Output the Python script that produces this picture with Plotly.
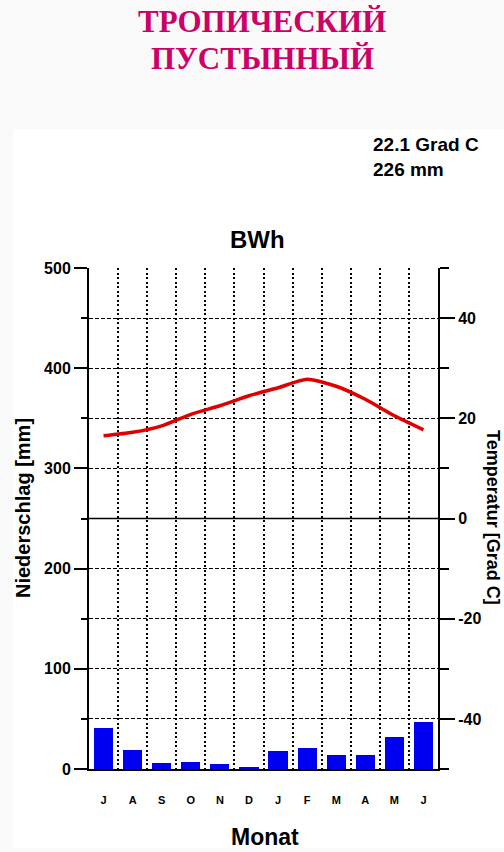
import plotly.graph_objects as go

# ---- data ----
months = ["J", "A", "S", "O", "N", "D", "J", "F", "M", "A", "M", "J"]
precip_mm = [41, 19, 6, 7, 5, 2, 18, 21, 14, 14, 32, 47]
temp_c = [16.5, 17.2, 18.5, 20.8, 22.5, 24.5, 26.1, 27.8, 26.4, 23.8, 20.5, 17.7]
temp_ticks = [-40, -20, 0, 20, 40]
temp_tick_labels = ["-40", "-20", "0", "20", "40"]
title_lines = ["ТРОПИЧЕСКИЙ", "ПУСТЫННЫЙ"]
climate_code = "BWh"
mean_temp_text = "22.1 Grad C"
total_precip_text = "226 mm"

W, H = 504, 852
L, R, T, B = 89, 66, 268, 83
PW, PH = W - L - R, H - T - B


def px(x):
    return (x - L) / PW


def py(y):
    return (H - B - y) / PH


FONT = "Liberation Sans"
idx = list(range(len(months)))

fig = go.Figure()
fig.add_trace(go.Bar(x=idx, y=precip_mm, width=0.66,
                     marker=dict(color="#0000f0", line=dict(width=0)),
                     showlegend=False))
fig.add_trace(go.Scatter(x=idx, y=temp_c, yaxis="y2", mode="lines",
                         line=dict(color="#e00000", width=3.5, shape="spline", smoothing=0.6),
                         showlegend=False))

grid_dash = "4px,2px"
fig.update_layout(
    width=W, height=H,
    margin=dict(l=L, r=R, t=T, b=B, autoexpand=False),
    paper_bgcolor="#f9f9f9",
    plot_bgcolor="white",
    font=dict(family=FONT, color="black"),
    bargap=0,
    xaxis=dict(
        range=[-0.5, 11.5], tickvals=idx, ticktext=months,
        showline=True, linewidth=2, linecolor="black",
        ticks="", showgrid=False, zeroline=False,
        tickfont=dict(size=11, weight="bold"),
        ticklabelstandoff=20,
        minor=dict(tick0=0.5, dtick=1, showgrid=True, gridcolor="black",
                   griddash="2px,2.5px", gridwidth=1.6, ticks=""),
    ),
    yaxis=dict(
        range=[0, 500], dtick=100, tick0=0,
        showline=True, linewidth=2, linecolor="black",
        ticks="outside", ticklen=13, tickwidth=2, tickcolor="black",
        showgrid=True, gridcolor="black", gridwidth=1, griddash=grid_dash,
        zeroline=False,
        tickfont=dict(size=16, weight="bold"),
        minor=dict(dtick=50, tick0=0, ticks="outside", ticklen=6, tickwidth=2,
                   tickcolor="black", showgrid=True, gridcolor="black",
                   gridwidth=1, griddash=grid_dash),
    ),
    yaxis2=dict(
        overlaying="y", side="right", range=[-50, 50],
        tickvals=temp_ticks, ticktext=temp_tick_labels,
        showline=True, linewidth=2, linecolor="black",
        ticks="outside", ticklen=15, tickwidth=2, tickcolor="black",
        showgrid=False, zeroline=False,
        tickfont=dict(size=16, weight="bold"),
        minor=dict(dtick=10, tick0=0, ticks="outside", ticklen=9, tickwidth=2,
                   tickcolor="black", showgrid=False),
    ),
)

# white picture area and the solid 0 °C line
fig.add_shape(type="rect", xref="paper", yref="paper",
              x0=px(13), x1=px(W + 5), y0=py(848), y1=py(129),
              fillcolor="white", line=dict(width=0), layer="below")
fig.add_shape(type="line", xref="x domain", yref="y2",
              x0=0, x1=1, y0=0, y1=0, line=dict(color="black", width=1.5))

# texts
for i, line in enumerate(title_lines):
    fig.add_annotation(text=f"<b>{line}</b>", xref="paper", yref="paper",
                       x=px(262), y=py(22 + 36 * i), showarrow=False,
                       font=dict(family="Liberation Serif", size=31, color="#cc0066"),
                       xanchor="center", yanchor="middle")
fig.add_annotation(text=climate_code, xref="paper", yref="paper",
                   x=px(257), y=py(239), showarrow=False,
                   font=dict(size=24, weight="bold"), xanchor="center", yanchor="middle")
fig.add_annotation(text=mean_temp_text, xref="paper", yref="paper",
                   x=px(371), y=py(145), showarrow=False,
                   font=dict(size=19, weight="bold"), xanchor="left", yanchor="middle")
fig.add_annotation(text=total_precip_text, xref="paper", yref="paper",
                   x=px(371), y=py(170), showarrow=False,
                   font=dict(size=19, weight="bold"), xanchor="left", yanchor="middle")
fig.add_annotation(text="Niederschlag [mm]", xref="paper", yref="paper",
                   x=px(23), y=py(508), showarrow=False, textangle=-90,
                   font=dict(size=20, weight="bold"), xanchor="center", yanchor="middle")
fig.add_annotation(text="Temperatur [Grad C]", xref="paper", yref="paper",
                   x=px(493), y=py(518), showarrow=False, textangle=90,
                   font=dict(size=18, weight="bold"), xanchor="center", yanchor="middle")
fig.add_annotation(text="Monat", xref="paper", yref="paper",
                   x=px(265), y=py(837), showarrow=False,
                   font=dict(size=23, weight="bold"), xanchor="center", yanchor="middle")

fig.write_html("out.html",
               config={"displayModeBar": False},
               post_script="document.body.style.margin='0';document.body.style.overflow='hidden';")
